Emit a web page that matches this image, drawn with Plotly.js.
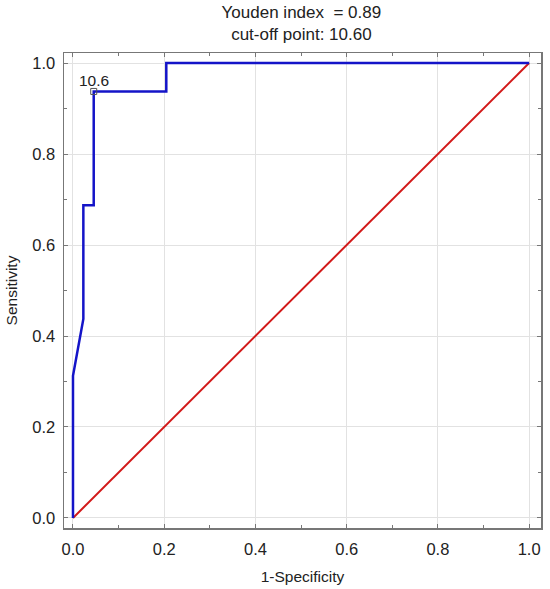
<!DOCTYPE html>
<html><head><meta charset="utf-8">
<script src="https://cdn.plot.ly/plotly-3.0.1.min.js"></script>
<style>html,body{margin:0;padding:0;background:#fff;}#chart{width:550px;height:589px;}</style>
</head><body><div id="chart"></div>
<script>
const rocX = [0, 0, 1/44, 1/44, 2/44, 2/44, 9/44, 9/44, 1];
const rocY = [0, 0.3125, 0.4375, 0.6875, 0.6875, 0.9375, 0.9375, 1, 1];
const refX = [0, 1];
const refY = [0, 1];
const cutX = [2/44];
const cutY = [0.9375];
const cutLabel = ['10.6'];
const titleLines = ['Youden index  = 0.89', 'cut-off point: 10.60'];
const tickVals = [0, 0.2, 0.4, 0.6, 0.8, 1.0];
const tickText = ['0.0', '0.2', '0.4', '0.6', '0.8', '1.0'];

const traces = [
  {x: refX, y: refY, mode: 'lines', line: {color: 'rgb(210,25,25)', width: 2}, hoverinfo: 'skip'},
  {x: rocX, y: rocY, mode: 'lines', line: {color: 'rgb(20,20,200)', width: 2.5}, hoverinfo: 'skip'},
  {x: cutX, y: cutY, mode: 'markers',
   marker: {symbol: 'square-open', size: 6, color: '#555', line: {width: 1}}, hoverinfo: 'skip'}
];

const axisCommon = {
  tickvals: tickVals, ticktext: tickText,
  showgrid: true, gridcolor: '#e2e2e2', gridwidth: 1,
  zeroline: false, showline: true, linecolor: '#777', linewidth: 1.5, mirror: 'ticks',
  ticks: 'inside', ticklen: 4, tickcolor: '#777',
  tickfont: {size: 16.5, color: '#222'},
  minor: {dtick: 0.1, ticks: 'inside', ticklen: 3, tickcolor: '#777', showgrid: false}
};

const layout = {
  width: 550, height: 589,
  margin: {l: 64, r: 9, t: 53, b: 61},
  paper_bgcolor: '#fff', plot_bgcolor: '#fff',
  font: {family: 'Liberation Sans, Arial, sans-serif', color: '#222'},
  showlegend: false,
  title: {text: titleLines.join('<br>'), font: {size: 17, color: '#222'}, x: 0.548, xanchor: 'center', yref: 'container', y: 0.969, yanchor: 'top'},
  annotations: [{x: cutX[0], y: cutY[0], xref: 'x', yref: 'y', text: cutLabel[0], showarrow: false,
    xanchor: 'center', yanchor: 'bottom', yshift: 0, font: {size: 15.5, color: '#222'}}],
  xaxis: Object.assign({}, axisCommon, {range: [-0.0197, 1.026], ticklabelstandoff: 6, title: {text: '1-Specificity', font: {size: 15.5, color: '#222'}, standoff: 14}}),
  yaxis: Object.assign({}, axisCommon, {range: [-0.022, 1.022], ticklabelstandoff: 4, title: {text: 'Sensitivity', font: {size: 15.5, color: '#222'}, standoff: 11}})
};

Plotly.newPlot('chart', traces, layout, {displayModeBar: false, staticPlot: true});
</script></body></html>
